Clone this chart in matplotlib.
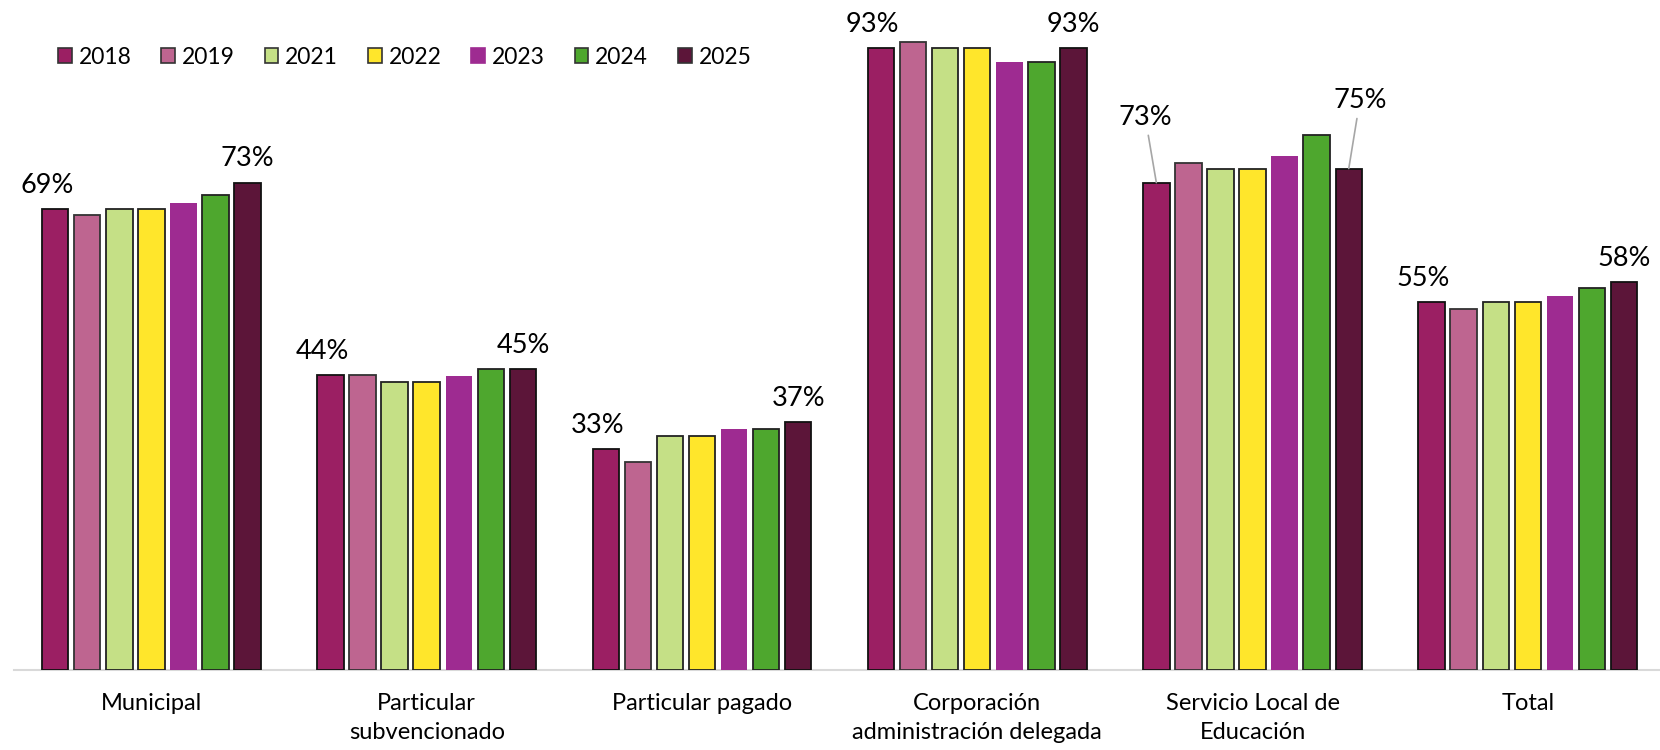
import matplotlib
matplotlib.use("Agg")
import matplotlib.pyplot as plt
from matplotlib.patches import Patch
import numpy as np

plt.rcParams['font.family'] = ['Lato', 'DejaVu Sans']

categories = ["Municipal", "Particular\nsubvencionado", "Particular pagado",
              "Corporación\nadministración delegada", "Servicio Local de\nEducación", "Total"]
years = ["2018", "2019", "2021", "2022", "2023", "2024", "2025"]
v2018 = [68.9, 44.1, 33.0, 93.0, 72.9, 55.0]
v2019 = [68.0, 44.1, 31.1, 94.0, 75.9, 54.0]
v2021 = [68.9, 43.1, 35.0, 93.0, 75.0, 55.0]
v2022 = [68.9, 43.1, 35.0, 93.0, 75.0, 55.0]
v2023 = [69.9, 43.9, 36.0, 91.0, 76.9, 55.9]
v2024 = [71.0, 45.0, 36.1, 91.0, 80.0, 57.1]
v2025 = [72.9, 45.0, 37.1, 93.0, 75.0, 58.0]
series = [v2018, v2019, v2021, v2022, v2023, v2024, v2025]
first_labels = ["69%", "44%", "33%", "93%", "73%", "55%"]
last_labels = ["73%", "45%", "37%", "93%", "75%", "58%"]

colors = ["#9B1F63", "#BE6590", "#C5E086", "#FFE62B", "#9E2B91", "#4EA72E", "#5C1539"]
edges = ["#111111", "#333333", "#222222", "#222222", "none", "#222222", "#111111"]

fig = plt.figure(figsize=(16.6, 7.5), dpi=100)
ax = fig.add_axes([0.0083, 0.107, 0.995, 0.891])

x = np.arange(len(categories))
pitch = 0.1165
width = 0.096
for i, (vals, c, ec) in enumerate(zip(series, colors, edges)):
    ax.bar(x + (i - 3) * pitch, vals, width=width, color=c,
           edgecolor=ec, linewidth=1.3 if ec != "none" else 0, zorder=3)

# data labels for first and last series
for j in range(len(categories)):
    x0 = x[j] - 3 * pitch
    x1 = x[j] + 3 * pitch
    if j == 4:
        ax.annotate(first_labels[j], xy=(x0, series[0][j]), xytext=(-8, 38),
                    textcoords="offset points", ha="center", va="bottom", fontsize=19.5,
                    arrowprops=dict(arrowstyle="-", color="#a6a6a6", lw=1.2,
                                    shrinkA=2, shrinkB=0))
        ax.annotate(last_labels[j], xy=(x1, series[6][j]), xytext=(8, 40),
                    textcoords="offset points", ha="center", va="bottom", fontsize=19.5,
                    arrowprops=dict(arrowstyle="-", color="#a6a6a6", lw=1.2,
                                    shrinkA=2, shrinkB=0))
    else:
        ax.annotate(first_labels[j], xy=(x0, series[0][j]), xytext=(-6, 8),
                    textcoords="offset points", ha="center", va="bottom", fontsize=19.5)
        ax.annotate(last_labels[j], xy=(x1, series[6][j]), xytext=(0, 8),
                    textcoords="offset points", ha="center", va="bottom", fontsize=19.5)

ax.set_xlim(-0.5, 5.5)
ax.set_ylim(0, 100)
ax.set_xticks(x)
ax.set_xticklabels(categories, fontsize=17, linespacing=1.45)
ax.tick_params(axis="x", length=0, pad=17)
ax.set_yticks([])
for s in ["top", "right", "left"]:
    ax.spines[s].set_visible(False)
ax.spines["bottom"].set_color("#d9d9d9")
ax.spines["bottom"].set_linewidth(1.5)

handles = [Patch(facecolor=c, edgecolor=("#333333" if ec != "none" else c), linewidth=1.2)
           for c, ec in zip(colors, edges)]
leg = fig.legend(handles, years, loc="center left", bbox_to_anchor=(0.035, 0.924),
                 ncol=7, frameon=False, fontsize=16.5, handlelength=0.6, handleheight=0.6,
                 handletextpad=0.3, columnspacing=1.3, borderaxespad=0, borderpad=0)

fig.savefig("out.png", dpi=100, facecolor="white")
